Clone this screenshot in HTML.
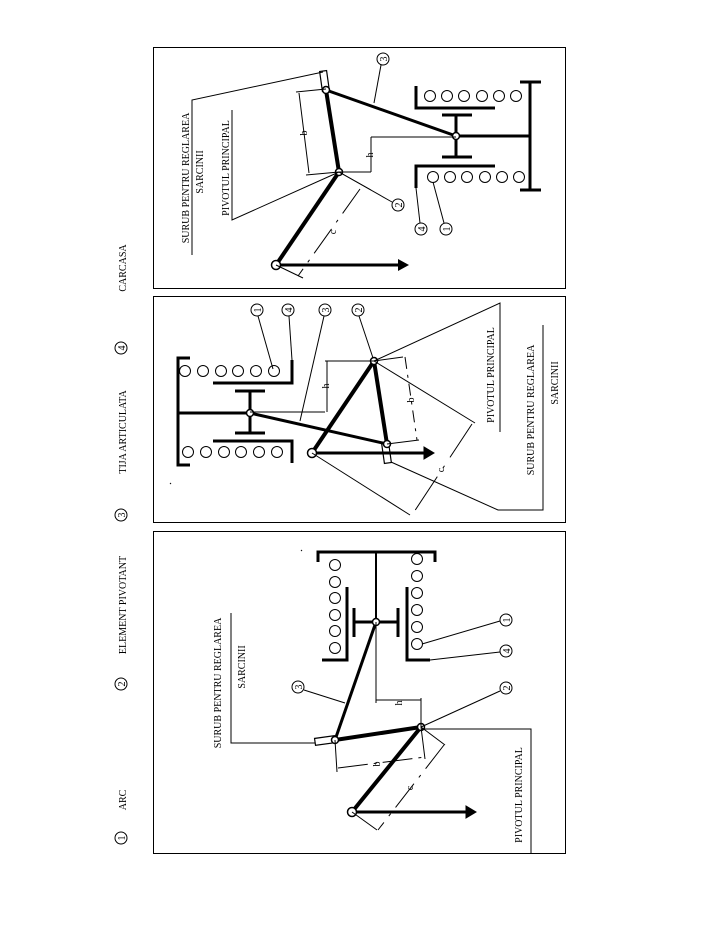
<!DOCTYPE html>
<html><head><meta charset="utf-8"><style>
html,body{margin:0;padding:0;background:#fff;}
svg{display:block}
text{font-family:"Liberation Serif",serif;font-size:10px;fill:#000}
</style></head><body>
<svg width="710" height="944" viewBox="0 0 710 944" xmlns="http://www.w3.org/2000/svg">
<g fill="none" stroke="#000">
<rect x="153.5" y="47.5" width="412" height="241" stroke-width="1"/>
<rect x="153.5" y="296.5" width="412" height="226" stroke-width="1"/>
<rect x="153.5" y="531.5" width="412" height="322" stroke-width="1"/>

<circle cx="121" cy="838" r="6"/><circle cx="121" cy="684" r="6"/>
<circle cx="121" cy="515" r="6"/><circle cx="121" cy="348" r="6"/>

<line x1="276" y1="265" x2="339" y2="172" stroke-width="4"/>
<line x1="339" y1="172" x2="326" y2="90" stroke-width="4"/>
<line x1="326" y1="90" x2="456" y2="136" stroke-width="3"/>
<rect x="321" y="71" width="7" height="20" stroke-width="1.2" transform="rotate(-8 324 81)"/>
<line x1="276" y1="265" x2="398" y2="265" stroke-width="3"/>
<line x1="456" y1="115" x2="456" y2="157" stroke-width="3"/>
<line x1="442" y1="115" x2="472" y2="115" stroke-width="3"/>
<line x1="442" y1="157" x2="472" y2="157" stroke-width="3"/>
<line x1="456" y1="136" x2="530" y2="136" stroke-width="3"/>
<line x1="530" y1="82" x2="530" y2="190" stroke-width="3"/>
<line x1="520" y1="82" x2="541" y2="82" stroke-width="3"/>
<line x1="520" y1="190" x2="541" y2="190" stroke-width="3"/>
<polyline points="416,86 416,108 495,108" stroke-width="3"/>
<polyline points="495,166 416,166 416,188" stroke-width="3"/>
<g stroke-width="1">
<circle cx="430" cy="96" r="5.5"/><circle cx="447" cy="96" r="5.5"/><circle cx="464" cy="96" r="5.5"/><circle cx="482" cy="96" r="5.5"/><circle cx="499" cy="96" r="5.5"/><circle cx="516" cy="96" r="5.5"/>
<circle cx="433" cy="177" r="5.5"/><circle cx="450" cy="177" r="5.5"/><circle cx="467" cy="177" r="5.5"/><circle cx="485" cy="177" r="5.5"/><circle cx="502" cy="177" r="5.5"/><circle cx="519" cy="177" r="5.5"/>
<circle cx="276" cy="265" r="4.5" stroke-width="1.5" fill="#fff"/><circle cx="339" cy="172" r="3.5" stroke-width="1.5" fill="#fff"/>
<circle cx="326" cy="90" r="3.5" stroke-width="1.5" fill="#fff"/><circle cx="456" cy="136" r="3.5" stroke-width="1.5" fill="#fff"/>
<circle cx="383" cy="59" r="6"/><line x1="381" y1="65" x2="374" y2="103"/>
<circle cx="398" cy="205" r="6"/><line x1="392" y1="202" x2="339" y2="172"/>
<circle cx="421" cy="229" r="6"/><line x1="420" y1="223" x2="416" y2="188"/>
<circle cx="446" cy="229" r="6"/><line x1="444" y1="223" x2="433" y2="182"/>
<line x1="296" y1="92" x2="326" y2="89"/><line x1="306" y1="175" x2="339" y2="172"/>
<line x1="299" y1="93" x2="309" y2="173"/>
<line x1="339" y1="172" x2="371" y2="172"/><line x1="371" y1="137" x2="456" y2="137"/>
<line x1="371" y1="137" x2="371" y2="172"/>
<line x1="339" y1="172" x2="371" y2="190"/><line x1="276" y1="265" x2="303" y2="278"/>
<line x1="360" y1="189" x2="298" y2="276" stroke-dasharray="30 8 3 8"/>
<polyline points="323,72 192,100 192,255"/>
<polyline points="232,110 232,220 339,172"/>
</g>
<polygon points="398,259 398,271 409,265" fill="#000" stroke-width="0"/>
<line x1="312" y1="453" x2="374" y2="361" stroke-width="4"/>
<line x1="374" y1="361" x2="387" y2="444" stroke-width="4"/>
<line x1="387" y1="444" x2="250" y2="413" stroke-width="3"/>
<rect x="383" y="443" width="7" height="20" stroke-width="1.2" transform="rotate(-8 387 453)"/>
<line x1="312" y1="453" x2="425" y2="453" stroke-width="3"/>
<line x1="250" y1="391" x2="250" y2="433" stroke-width="3"/>
<line x1="235" y1="391" x2="265" y2="391" stroke-width="3"/>
<line x1="235" y1="433" x2="265" y2="433" stroke-width="3"/>
<line x1="250" y1="413" x2="178" y2="413" stroke-width="3"/>
<polyline points="190,358 178,358 178,465 190,465" stroke-width="3"/>
<polyline points="292,360 292,383 213,383" stroke-width="3"/>
<polyline points="213,441 292,441 292,463" stroke-width="3"/>
<g stroke-width="1">
<circle cx="185" cy="371" r="5.5"/><circle cx="203" cy="371" r="5.5"/><circle cx="221" cy="371" r="5.5"/><circle cx="238" cy="371" r="5.5"/><circle cx="256" cy="371" r="5.5"/><circle cx="274" cy="371" r="5.5"/>
<circle cx="188" cy="452" r="5.5"/><circle cx="206" cy="452" r="5.5"/><circle cx="224" cy="452" r="5.5"/><circle cx="241" cy="452" r="5.5"/><circle cx="259" cy="452" r="5.5"/><circle cx="277" cy="452" r="5.5"/>
<circle cx="312" cy="453" r="4.5" stroke-width="1.5" fill="#fff"/><circle cx="374" cy="361" r="3.5" stroke-width="1.5" fill="#fff"/>
<circle cx="387" cy="444" r="3.5" stroke-width="1.5" fill="#fff"/><circle cx="250" cy="413" r="3.5" stroke-width="1.5" fill="#fff"/>
<circle cx="257" cy="310" r="6"/><line x1="258" y1="316" x2="273" y2="369"/>
<circle cx="288" cy="310" r="6"/><line x1="289" y1="316" x2="292" y2="360"/>
<circle cx="325" cy="310" r="6"/><line x1="324" y1="316" x2="300" y2="421"/>
<circle cx="358" cy="310" r="6"/><line x1="359" y1="316" x2="373" y2="358"/>
<line x1="325" y1="361" x2="374" y2="361"/><line x1="250" y1="412" x2="325" y2="412"/>
<line x1="327" y1="361" x2="327" y2="412"/>
<line x1="374" y1="361" x2="403" y2="357"/><line x1="387" y1="444" x2="419" y2="440"/>
<line x1="405" y1="357" x2="417" y2="440" stroke-dasharray="12 6 3 6"/>
<line x1="374" y1="361" x2="475" y2="423"/><line x1="312" y1="453" x2="410" y2="515"/>
<line x1="472" y1="424" x2="412" y2="515" stroke-dasharray="40 10 3 10"/>
<polyline points="374,361 500,303 500,432"/>
<polyline points="391,462 498,510 543,510 543,325"/>
<line x1="170" y1="483" x2="171" y2="484"/>
</g>
<polygon points="424,447 424,459 434,453" fill="#000"/>
<line x1="352" y1="812" x2="421" y2="727" stroke-width="4"/>
<line x1="421" y1="727" x2="335" y2="740" stroke-width="4"/>
<line x1="335" y1="740" x2="376" y2="622" stroke-width="3"/>
<rect x="315" y="737" width="20" height="7" stroke-width="1.2" transform="rotate(-8 325 741)"/>
<line x1="352" y1="812" x2="466" y2="812" stroke-width="3"/>
<line x1="354" y1="622" x2="398" y2="622" stroke-width="3"/>
<line x1="354" y1="608" x2="354" y2="637" stroke-width="3"/>
<line x1="398" y1="608" x2="398" y2="637" stroke-width="3"/>
<line x1="376" y1="622" x2="376" y2="552" stroke-width="2"/>
<polyline points="318,562 318,552 435,552 435,562" stroke-width="3"/>
<polyline points="347,587 347,660 322,660" stroke-width="3"/>
<polyline points="407,587 407,660 430,660" stroke-width="3"/>
<g stroke-width="1">
<circle cx="335" cy="565" r="5.5"/><circle cx="335" cy="582" r="5.5"/><circle cx="335" cy="598" r="5.5"/><circle cx="335" cy="615" r="5.5"/><circle cx="335" cy="631" r="5.5"/><circle cx="335" cy="648" r="5.5"/>
<circle cx="417" cy="559" r="5.5"/><circle cx="417" cy="576" r="5.5"/><circle cx="417" cy="593" r="5.5"/><circle cx="417" cy="610" r="5.5"/><circle cx="417" cy="627" r="5.5"/><circle cx="417" cy="644" r="5.5"/>
<circle cx="352" cy="812" r="4.5" stroke-width="1.5" fill="#fff"/><circle cx="421" cy="727" r="3.5" stroke-width="1.5" fill="#fff"/>
<circle cx="335" cy="740" r="3.5" stroke-width="1.5" fill="#fff"/><circle cx="376" cy="622" r="3.5" stroke-width="1.5" fill="#fff"/>
<circle cx="506" cy="620" r="6"/><line x1="500" y1="621" x2="422" y2="644"/>
<circle cx="506" cy="651" r="6"/><line x1="500" y1="652" x2="430" y2="660"/>
<circle cx="298" cy="687" r="6"/><line x1="304" y1="690" x2="345" y2="703"/>
<circle cx="506" cy="688" r="6"/><line x1="500" y1="691" x2="421" y2="727"/>
<line x1="376" y1="622" x2="376" y2="703"/><line x1="421" y1="727" x2="421" y2="698"/>
<line x1="376" y1="700" x2="421" y2="700"/>
<line x1="335" y1="740" x2="337" y2="772"/><line x1="421" y1="727" x2="425" y2="759"/>
<line x1="338" y1="768" x2="425" y2="757" stroke-dasharray="30 6 3 6"/>
<line x1="421" y1="727" x2="445" y2="745"/><line x1="352" y1="812" x2="377" y2="830"/>
<line x1="444" y1="745" x2="378" y2="830" stroke-dasharray="30 8 3 8"/>
<polyline points="315,743 231,743 231,613"/>
<polyline points="421,729 531,729 531,853"/>
<line x1="301" y1="550" x2="302" y2="551"/>
</g>
<polygon points="466,806 466,818 476,812" fill="#000"/>
</g>

<g>
<text transform="translate(125,838) rotate(-90)" text-anchor="middle" font-size="9">1</text>
<text transform="translate(125,684) rotate(-90)" text-anchor="middle" font-size="9">2</text>
<text transform="translate(125,515) rotate(-90)" text-anchor="middle" font-size="9">3</text>
<text transform="translate(125,348) rotate(-90)" text-anchor="middle" font-size="9">4</text>
<text transform="translate(126,800) rotate(-90)" text-anchor="middle">ARC</text>
<text transform="translate(126,605) rotate(-90)" text-anchor="middle">ELEMENT PIVOTANT</text>
<text transform="translate(126,432) rotate(-90)" text-anchor="middle">TIJA ARTICULATA</text>
<text transform="translate(126,268) rotate(-90)" text-anchor="middle">CARCASA</text>

<text transform="translate(189,178) rotate(-90)" text-anchor="middle">SURUB PENTRU  REGLAREA</text>
<text transform="translate(203,172) rotate(-90)" text-anchor="middle">SARCINII</text>
<text transform="translate(229,168) rotate(-90)" text-anchor="middle">PIVOTUL  PRINCIPAL</text>
<text transform="translate(387,59) rotate(-90)" text-anchor="middle" font-size="9">3</text>
<text transform="translate(402,205) rotate(-90)" text-anchor="middle" font-size="9">2</text>
<text transform="translate(425,229) rotate(-90)" text-anchor="middle" font-size="9">4</text>
<text transform="translate(450,229) rotate(-90)" text-anchor="middle" font-size="9">1</text>
<text transform="translate(307,133) rotate(-90)" text-anchor="middle">b</text>
<text transform="translate(373,155) rotate(-90)" text-anchor="middle">h</text>
<text transform="translate(336,232) rotate(-90)" text-anchor="middle">c</text>

<text transform="translate(261,310) rotate(-90)" text-anchor="middle" font-size="9">1</text>
<text transform="translate(292,310) rotate(-90)" text-anchor="middle" font-size="9">4</text>
<text transform="translate(329,310) rotate(-90)" text-anchor="middle" font-size="9">3</text>
<text transform="translate(362,310) rotate(-90)" text-anchor="middle" font-size="9">2</text>
<text transform="translate(494,375) rotate(-90)" text-anchor="middle">PIVOTUL PRINCIPAL</text>
<text transform="translate(534,410) rotate(-90)" text-anchor="middle">SURUB PENTRU REGLAREA</text>
<text transform="translate(558,383) rotate(-90)" text-anchor="middle">SARCINII</text>
<text transform="translate(329,386) rotate(-90)" text-anchor="middle">h</text>
<text transform="translate(414,400) rotate(-90)" text-anchor="middle">b</text>
<text transform="translate(444,470) rotate(-90)" text-anchor="middle">c</text>

<text transform="translate(510,620) rotate(-90)" text-anchor="middle" font-size="9">1</text>
<text transform="translate(510,651) rotate(-90)" text-anchor="middle" font-size="9">4</text>
<text transform="translate(302,687) rotate(-90)" text-anchor="middle" font-size="9">3</text>
<text transform="translate(510,688) rotate(-90)" text-anchor="middle" font-size="9">2</text>
<text transform="translate(221,683) rotate(-90)" text-anchor="middle">SURUB PENTRU REGLAREA</text>
<text transform="translate(245,667) rotate(-90)" text-anchor="middle">SARCINII</text>
<text transform="translate(522,795) rotate(-90)" text-anchor="middle">PIVOTUL PRINCIPAL</text>
<text transform="translate(402,703) rotate(-90)" text-anchor="middle">h</text>
<text transform="translate(380,764) rotate(-90)" text-anchor="middle">b</text>
<text transform="translate(413,788) rotate(-90)" text-anchor="middle">c</text>
</g>
</svg>
</body></html>
